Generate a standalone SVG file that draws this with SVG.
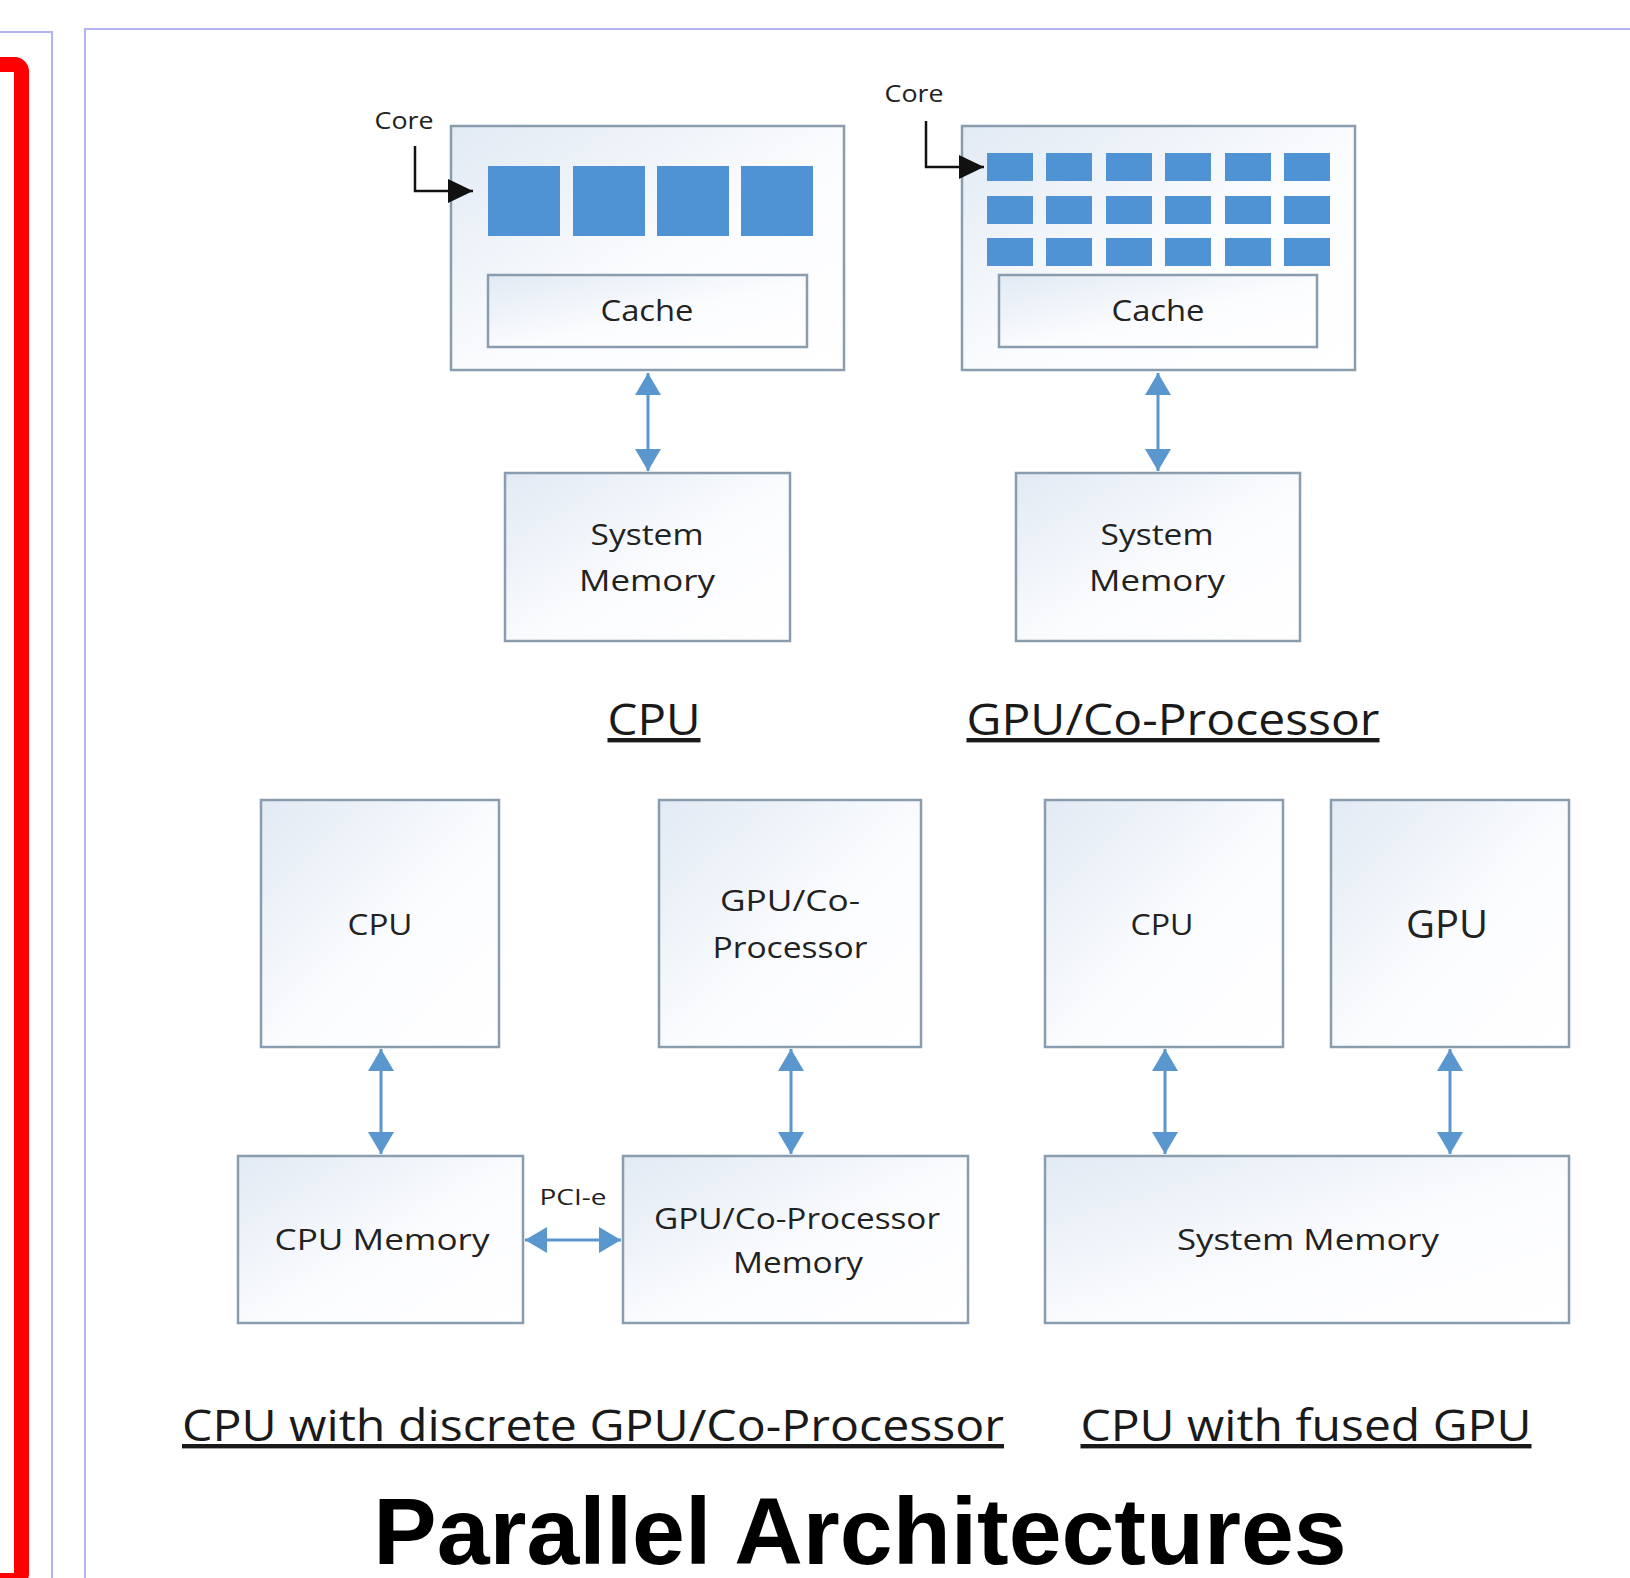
<svg xmlns="http://www.w3.org/2000/svg" width="1630" height="1578" viewBox="0 0 1630 1578">
<defs>
<linearGradient id="bg" x1="0" y1="0" x2="1" y2="1">
<stop offset="0" stop-color="#e2eaf4"/>
<stop offset="0.55" stop-color="#fbfcfe"/>
<stop offset="1" stop-color="#ffffff"/>
</linearGradient>
<marker id="ab" markerUnits="userSpaceOnUse" markerWidth="26" markerHeight="28" refX="22" refY="13" orient="auto-start-reverse">
<path d="M0,0 L22,13 L0,26 z" fill="#5b97cf"/>
</marker>
<marker id="ak" markerUnits="userSpaceOnUse" markerWidth="28" markerHeight="26" refX="25" refY="12" orient="auto">
<path d="M0,0 L25,12 L0,24 z" fill="#111"/>
</marker>
</defs>
<style>
.box{fill:url(#bg);stroke:#8a9dae;stroke-width:2.5}
.core{fill:#4f93d4}
.t{font-family:"Open Sans","Noto Sans","DejaVu Sans",sans-serif;fill:#222;text-anchor:middle}
.lab{font-family:"Open Sans","Noto Sans","DejaVu Sans",sans-serif;fill:#1a1a1a;text-anchor:middle;text-decoration:underline}
.con{stroke:#5b97cf;stroke-width:3;fill:none;marker-start:url(#ab);marker-end:url(#ab)}
.pan{fill:none;stroke:#b3b3f0;stroke-width:2}
</style>
<rect width="1630" height="1578" fill="#ffffff"/>
<g id="frame">
<rect x="-40" y="64.5" width="61.5" height="1516" rx="7" fill="none" stroke="#ff0000" stroke-width="15"/>
<path class="pan" d="M0,32 H52 V1580"/>
<path class="pan" d="M85,1580 V29 H1632"/>
</g>
<g id="cpu">
<rect class="box" x="451" y="126" width="393" height="244"/>
<rect class="core" x="488" y="166" width="72" height="70"/>
<rect class="core" x="573" y="166" width="72" height="70"/>
<rect class="core" x="657" y="166" width="72" height="70"/>
<rect class="core" x="741" y="166" width="72" height="70"/>
<rect class="box" x="488" y="275" width="319" height="72"/>
<text class="t" x="647" y="321" font-size="30" textLength="93" lengthAdjust="spacingAndGlyphs">Cache</text>
<text class="t" x="404" y="129" font-size="24" textLength="59" lengthAdjust="spacingAndGlyphs">Core</text>
<path d="M415,146 V191 H473" fill="none" stroke="#111" stroke-width="2.5" marker-end="url(#ak)"/>
</g>
<g id="gpu">
<rect class="box" x="962" y="126" width="393" height="244"/>
<g class="core">
<rect x="987" y="153" width="46" height="28"/><rect x="1046" y="153" width="46" height="28"/><rect x="1106" y="153" width="46" height="28"/><rect x="1165" y="153" width="46" height="28"/><rect x="1225" y="153" width="46" height="28"/><rect x="1284" y="153" width="46" height="28"/>
<rect x="987" y="196" width="46" height="28"/><rect x="1046" y="196" width="46" height="28"/><rect x="1106" y="196" width="46" height="28"/><rect x="1165" y="196" width="46" height="28"/><rect x="1225" y="196" width="46" height="28"/><rect x="1284" y="196" width="46" height="28"/>
<rect x="987" y="238" width="46" height="28"/><rect x="1046" y="238" width="46" height="28"/><rect x="1106" y="238" width="46" height="28"/><rect x="1165" y="238" width="46" height="28"/><rect x="1225" y="238" width="46" height="28"/><rect x="1284" y="238" width="46" height="28"/>
</g>
<rect class="box" x="999" y="275" width="318" height="72"/>
<text class="t" x="1158" y="321" font-size="30" textLength="93" lengthAdjust="spacingAndGlyphs">Cache</text>
<text class="t" x="914" y="102" font-size="24" textLength="59" lengthAdjust="spacingAndGlyphs">Core</text>
<path d="M926,121 V167 H984" fill="none" stroke="#111" stroke-width="2.5" marker-end="url(#ak)"/>
</g>
<g id="cpu-sysmem">
<rect class="box" x="505" y="473" width="285" height="168"/>
<text class="t" x="647" y="545" font-size="30" textLength="113" lengthAdjust="spacingAndGlyphs">System</text>
<text class="t" x="647" y="591" font-size="30" textLength="136" lengthAdjust="spacingAndGlyphs">Memory</text>
</g>
<g id="gpu-sysmem">
<rect class="box" x="1016" y="473" width="284" height="168"/>
<text class="t" x="1157" y="545" font-size="30" textLength="113" lengthAdjust="spacingAndGlyphs">System</text>
<text class="t" x="1157" y="591" font-size="30" textLength="136" lengthAdjust="spacingAndGlyphs">Memory</text>
</g>
<g id="label-cpu"><text class="lab" x="654" y="735" font-size="44" textLength="93" lengthAdjust="spacingAndGlyphs">CPU</text></g>
<g id="label-gpu"><text class="lab" x="1173" y="735" font-size="44" textLength="413" lengthAdjust="spacingAndGlyphs">GPU/Co-Processor</text></g>
<g id="d-cpu">
<rect class="box" x="261" y="800" width="238" height="247"/>
<text class="t" x="380" y="935" font-size="30" textLength="65" lengthAdjust="spacingAndGlyphs">CPU</text>
</g>
<g id="d-gpu">
<rect class="box" x="659" y="800" width="262" height="247"/>
<text class="t" x="790" y="911" font-size="30" textLength="140" lengthAdjust="spacingAndGlyphs">GPU/Co-</text>
<text class="t" x="790" y="958" font-size="30" textLength="155" lengthAdjust="spacingAndGlyphs">Processor</text>
</g>
<g id="d-cpumem">
<rect class="box" x="238" y="1156" width="285" height="167"/>
<text class="t" x="382" y="1250" font-size="30" textLength="215" lengthAdjust="spacingAndGlyphs">CPU Memory</text>
</g>
<g id="d-gpumem">
<rect class="box" x="623" y="1156" width="345" height="167"/>
<text class="t" x="797" y="1229" font-size="30" textLength="286" lengthAdjust="spacingAndGlyphs">GPU/Co-Processor</text>
<text class="t" x="798" y="1273" font-size="30" textLength="130" lengthAdjust="spacingAndGlyphs">Memory</text>
</g>
<g id="f-cpu">
<rect class="box" x="1045" y="800" width="238" height="247"/>
<text class="t" x="1162" y="935" font-size="30" textLength="63" lengthAdjust="spacingAndGlyphs">CPU</text>
</g>
<g id="f-gpu">
<rect class="box" x="1331" y="800" width="238" height="247"/>
<text class="t" x="1447" y="938" font-size="38" textLength="82" lengthAdjust="spacingAndGlyphs">GPU</text>
</g>
<g id="f-sysmem">
<rect class="box" x="1045" y="1156" width="524" height="167"/>
<text class="t" x="1308" y="1250" font-size="30" textLength="262" lengthAdjust="spacingAndGlyphs">System Memory</text>
</g>
<g id="connectors">
<line class="con" x1="648" y1="373" x2="648" y2="471"/>
<line class="con" x1="1158" y1="373" x2="1158" y2="471"/>
<line class="con" x1="381" y1="1049" x2="381" y2="1154"/>
<line class="con" x1="791" y1="1049" x2="791" y2="1154"/>
<line class="con" x1="1165" y1="1049" x2="1165" y2="1154"/>
<line class="con" x1="1450" y1="1049" x2="1450" y2="1154"/>
<line class="con" x1="525" y1="1240" x2="621" y2="1240"/>
<text class="t" x="573" y="1205" font-size="22" textLength="67" lengthAdjust="spacingAndGlyphs">PCI-e</text>
</g>
<g id="captions">
<text class="lab" x="593" y="1441" font-size="44" textLength="822" lengthAdjust="spacingAndGlyphs">CPU with discrete GPU/Co-Processor</text>
<text class="lab" x="1306" y="1441" font-size="44" textLength="451" lengthAdjust="spacingAndGlyphs">CPU with fused GPU</text>
<text x="860" y="1564" font-family="'Liberation Sans',Arial,sans-serif" font-weight="bold" font-size="95" text-anchor="middle" fill="#000">Parallel Architectures</text>
</g>
</svg>
